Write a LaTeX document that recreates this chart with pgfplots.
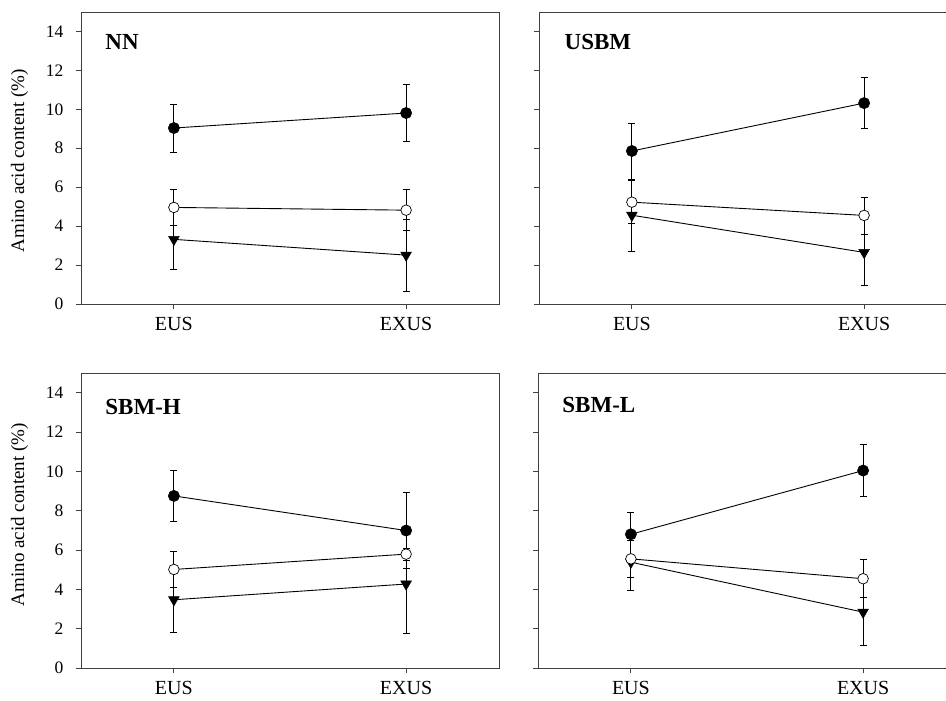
\documentclass[border=0pt]{standalone}
\usepackage{fontspec}
\setmainfont{Liberation Serif}
\usepackage{pgfplots}
\usepackage{pgfplotstable}
\pgfplotsset{compat=1.18}

% x  y  err
\pgfplotstableread{
x y e
1 9.04 1.23
2 9.81 1.48
}\NNf
\pgfplotstableread{
x y e
1 4.96 0.92
2 4.82 1.06
}\NNo
\pgfplotstableread{
x y e
1 3.32 1.54
2 2.51 1.85
}\NNt
\pgfplotstableread{
x y e
1 7.86 1.44
2 10.32 1.30
}\USf
\pgfplotstableread{
x y e
1 5.23 1.11
2 4.55 0.95
}\USo
\pgfplotstableread{
x y e
1 4.56 1.84
2 2.65 1.69
}\USt
\pgfplotstableread{
x y e
1 8.75 1.29
2 6.99 1.95
}\SHf
\pgfplotstableread{
x y e
1 5.01 0.93
2 5.79 0.30
}\SHo
\pgfplotstableread{
x y e
1 3.47 1.68
2 4.27 2.51
}\SHt
\pgfplotstableread{
x y e
1 6.80 1.10
2 10.04 1.32
}\SLf
\pgfplotstableread{
x y e
1 5.55 0.93
2 4.54 0.96
}\SLo
\pgfplotstableread{
x y e
1 5.38 1.44
2 2.84 1.67
}\SLt

\tikzset{plab/.style={anchor=base west, font=\fontsize{23}{25}\selectfont\bfseries}}
\newcommand\ylab{\fontsize{19}{22}\selectfont Amino acid content (\%)}

\pgfplotsset{
  panel/.style={
    scale only axis, anchor=south west,
    width=418pt,
    xmin=0.6, xmax=2.4, ymin=0, ymax=15,
    xtick={1,2}, xticklabels={EUS,EXUS},
    ytick={0,2,...,14},
    tick pos=left, tick align=outside,
    major tick length=5pt,
    axis line style={black!75, line width=0.9pt},
    every tick/.style={black!75, line width=0.8pt},
    /pgf/number format/assume math mode=true,
    yticklabel style={font=\fontsize{17.5}{19}\selectfont, xshift=-9pt},
    xticklabel style={font=\fontsize{20}{22}\selectfont, yshift=-5pt},
    clip=false,
  },
  sf/.style={black, line width=0.9pt, mark=*, mark size=5.6pt,
    mark options={solid, fill=black, draw=black, line width=0.6pt},
    error bars/.cd, y dir=both, y explicit,
    error bar style={line width=0.8pt, black},
    error mark options={rotate=90, mark size=3.5pt, line width=0.8pt, black}},
  so/.style={black, line width=0.9pt, mark=*, mark size=5.3pt,
    mark options={solid, fill=white, draw=black, line width=0.7pt},
    error bars/.cd, y dir=both, y explicit,
    error bar style={line width=0.8pt, black},
    error mark options={rotate=90, mark size=3.5pt, line width=0.8pt, black}},
  st/.style={black, line width=0.9pt, mark=triangle*, mark size=6.2pt,
    mark options={solid, rotate=180, fill=black, draw=black, line width=0.5pt},
    error bars/.cd, y dir=both, y explicit,
    error bar style={line width=0.8pt, black},
    error mark options={rotate=90, mark size=3.5pt, line width=0.8pt, black}},
}

\begin{document}
\begin{tikzpicture}
\useasboundingbox (0,0) rectangle (946pt,701pt);
\clip (0,0) rectangle (946pt,701pt);

% Top left: NN
\begin{axis}[panel, at={(81pt,397pt)}, height=292pt,
  ylabel={\ylab},
  ylabel style={at={(axis description cs:-0.147,0.49)}, anchor=center}]
\addplot+[st] table[x=x, y=y, y error=e] {\NNt};
\addplot+[so] table[x=x, y=y, y error=e] {\NNo};
\addplot+[sf] table[x=x, y=y, y error=e] {\NNf};
\node[plab] at (rel axis cs:0.05,0.87) {NN};
\end{axis}

% Top right: USBM
\begin{axis}[panel, at={(539pt,397pt)}, height=292pt, yticklabels={}]
\addplot+[st] table[x=x, y=y, y error=e] {\USt};
\addplot+[so] table[x=x, y=y, y error=e] {\USo};
\addplot+[sf] table[x=x, y=y, y error=e] {\USf};
\node[plab] at (rel axis cs:0.053,0.87) {USBM};
\end{axis}

% Bottom left: SBM-H
\begin{axis}[panel, at={(81pt,33pt)}, height=295pt,
  ylabel={\ylab},
  ylabel style={at={(axis description cs:-0.147,0.52)}, anchor=center}]
\addplot+[st] table[x=x, y=y, y error=e] {\SHt};
\addplot+[so] table[x=x, y=y, y error=e] {\SHo};
\addplot+[sf] table[x=x, y=y, y error=e] {\SHf};
\node[plab] at (rel axis cs:0.05,0.858) {SBM-H};
\end{axis}

% Bottom right: SBM-L
\begin{axis}[panel, at={(538pt,33pt)}, height=295pt, yticklabels={}]
\addplot+[st] table[x=x, y=y, y error=e] {\SLt};
\addplot+[so] table[x=x, y=y, y error=e] {\SLo};
\addplot+[sf] table[x=x, y=y, y error=e] {\SLf};
\node[plab] at (rel axis cs:0.05,0.865) {SBM-L};
\end{axis}
\end{tikzpicture}
\end{document}
